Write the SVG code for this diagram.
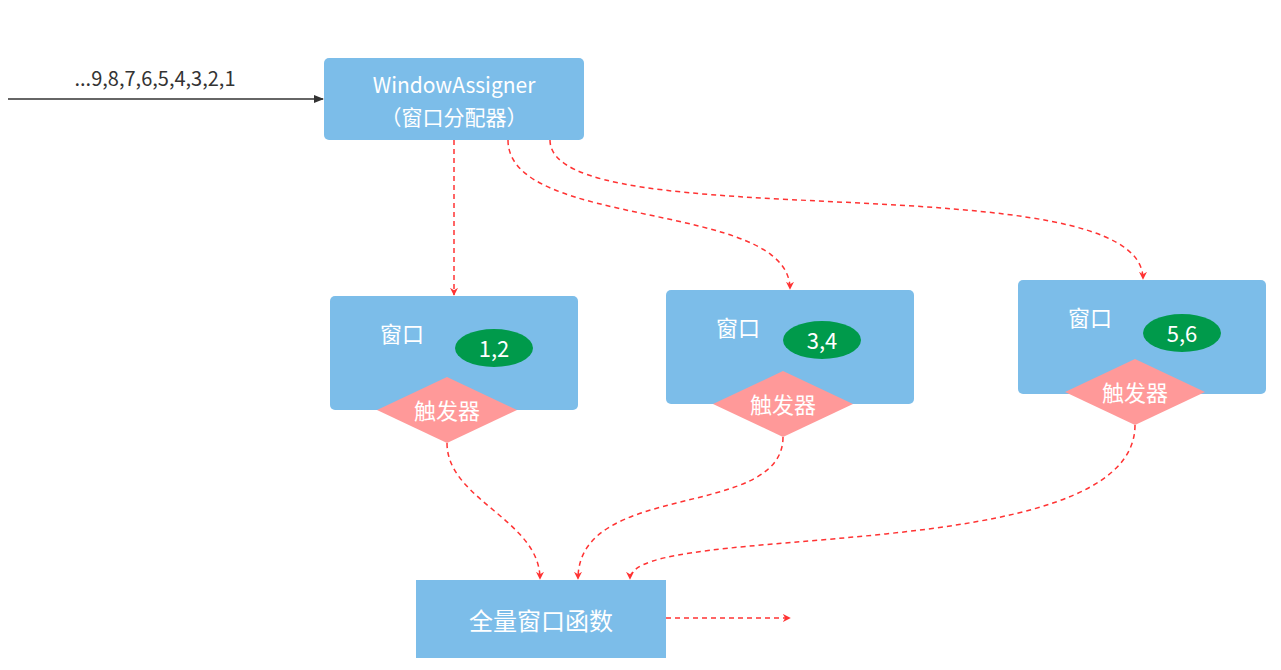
<svg xmlns="http://www.w3.org/2000/svg" width="1281" height="670" viewBox="0 0 1281 670">
<defs>
<style>
.box{fill:#7cbde9}
.t{font-family:"Microsoft YaHei","Noto Sans CJK SC",sans-serif;fill:#fff;text-anchor:middle}
.dia{fill:#ff9999}
.ell{fill:#009a4b}
.d{fill:none;stroke:#ff3333;stroke-width:1.5;stroke-dasharray:5 4}
</style>
<marker id="ar" viewBox="0 0 10 10" refX="9" refY="5" markerWidth="8" markerHeight="8" orient="auto" markerUnits="userSpaceOnUse"><path d="M0 0L10 5L0 10L3 5Z" fill="#ff3333"/></marker>
<marker id="ab" viewBox="0 0 10 10" refX="9" refY="5" markerWidth="10" markerHeight="10" orient="auto" markerUnits="userSpaceOnUse"><path d="M0 1L10 5L0 9Z" fill="#333"/></marker>
</defs>
<g id="connectors">
<line x1="8" y1="99" x2="323" y2="99" stroke="#333" stroke-width="1.5" marker-end="url(#ab)"/>
<path class="d" d="M454 140V295" marker-end="url(#ar)"/>
<path class="d" d="M508 140C508 230 790 200 790 289" marker-end="url(#ar)"/>
<path class="d" d="M550 140C550 240 1143 160 1143 279" marker-end="url(#ar)"/>
<path class="d" d="M447 443C447 500 540 520 540 579" marker-end="url(#ar)"/>
<path class="d" d="M783 437C783 520 578 480 578 579" marker-end="url(#ar)"/>
<path class="d" d="M1135 425C1135 570 630 520 630 579" marker-end="url(#ar)"/>
<path class="d" d="M666 618H790" marker-end="url(#ar)"/>
</g>
<text x="155" y="86" font-family="Microsoft YaHei,Noto Sans CJK SC,sans-serif" font-size="20" fill="#333" text-anchor="middle">...9,8,7,6,5,4,3,2,1</text>
<g id="assigner">
<rect class="box" x="324" y="58" width="260" height="82" rx="5"/>
<text class="t" x="454" y="93" font-size="21">WindowAssigner</text>
<text class="t" x="454" y="125" font-size="21">（窗口分配器）</text>
</g>
<g id="win1">
<rect class="box" x="330" y="296" width="248" height="114" rx="5"/>
<text class="t" x="402" y="342" font-size="22">窗口</text>
<ellipse class="ell" cx="494" cy="348" rx="39" ry="19"/>
<text class="t" x="494" y="357" font-size="22">1,2</text>
<polygon class="dia" points="377,410 447,377 517,410 447,443"/>
<text class="t" x="447" y="419" font-size="22">触发器</text>
</g>
<g id="win2">
<rect class="box" x="666" y="290" width="248" height="114" rx="5"/>
<text class="t" x="738" y="336" font-size="22">窗口</text>
<ellipse class="ell" cx="822" cy="340" rx="39" ry="19"/>
<text class="t" x="822" y="349" font-size="22">3,4</text>
<polygon class="dia" points="713,404 783,371 853,404 783,437"/>
<text class="t" x="783" y="413" font-size="22">触发器</text>
</g>
<g id="win3">
<rect class="box" x="1018" y="280" width="248" height="114" rx="5"/>
<text class="t" x="1090" y="326" font-size="22">窗口</text>
<ellipse class="ell" cx="1182" cy="333" rx="39" ry="19"/>
<text class="t" x="1182" y="342" font-size="22">5,6</text>
<polygon class="dia" points="1065,392 1135,359 1205,392 1135,425"/>
<text class="t" x="1135" y="401" font-size="22">触发器</text>
</g>
<g id="func">
<rect class="box" x="416" y="580" width="250" height="78"/>
<text class="t" x="541" y="630" font-size="24">全量窗口函数</text>
</g>
</svg>
